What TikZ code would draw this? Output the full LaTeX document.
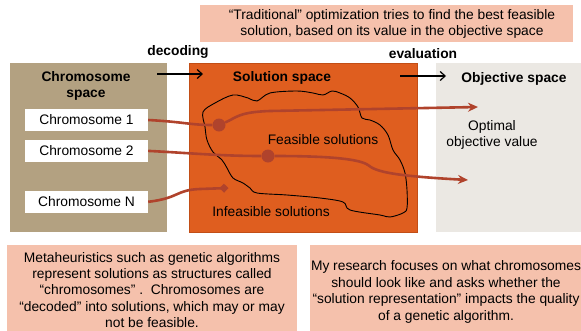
\documentclass[tikz,border=0pt]{standalone}
\usepackage{fontspec}
\setmainfont{Liberation Sans}
\usepackage{tikz}
\usetikzlibrary{arrows.meta, positioning, calc}

\definecolor{chromtan}{HTML}{B3A181}
\definecolor{solorange}{HTML}{DF5E1F}
\definecolor{solborder}{HTML}{C24E16}
\definecolor{objgray}{HTML}{EBE8E3}
\definecolor{notepink}{HTML}{F5C1AC}
\definecolor{linkred}{HTML}{B0432C}
\newcommand{\txtsize}{\fontsize{13.8}{16.4}\selectfont}

\begin{document}
\begin{tikzpicture}[
  x=1pt, y=-1pt,
  every node/.style={font=\txtsize, inner sep=0pt},
  region/.style={anchor=north west, minimum height=169, rectangle},
  title/.style={font=\txtsize\bfseries, align=center},
  chrom/.style={fill=white, minimum width=123, minimum height=22},
  note/.style={fill=notepink, anchor=north west},
  txt/.style={align=center},
  flow/.style={-{Straight Barb[length=5pt, width=9pt]}, line width=1.2pt},
  link/.style={draw=linkred, line width=2.6pt},
  tip/.style={-{Stealth[length=10pt, width=9pt]}},
  dot/.style={circle, fill=linkred, minimum size=13}
]
\useasboundingbox (0,0) rectangle (581,330);

\node[note, minimum width=373, minimum height=37] (topbox) at (200,5) {};
\node[txt] (toptxt) at (392,24) {“Traditional” optimization tries to find the best feasible\\solution, based on its value in the objective space};

\node[region, fill=chromtan, minimum width=157] (cs) at (10,63) {};
\node[region, fill=solorange, draw=solborder, line width=1pt, minimum width=228] (ss) at (189,63) {};
\node[region, fill=objgray, minimum width=160] (os) at (436,63) {};

\node[title] (cst) at (86,86) {Chromosome\\space};
\node[title] (sst) at (282,78) {Solution space};
\node[title] (ost) at (514,79) {Objective space};
\node[title] (dec) at (178,52) {decoding};
\node[title] (eva) at (423,54) {evaluation};

\coordinate (dec1) at (157,74);
\coordinate (dec2) at (203,74);
\coordinate (eva1) at (400,76);
\coordinate (eva2) at (446,76);
\draw[flow] (dec1) -- (dec2);
\draw[flow] (eva1) -- (eva2);

\node[chrom] (c1) at (86.5,120) {Chromosome 1};
\node[chrom, below=8.5pt of c1] (c2) {Chromosome 2};
\node[chrom, below=28.5pt of c2] (cN) {Chromosome N};

\draw[line width=0.9pt] plot[smooth cycle, tension=0.55] coordinates {
  (203,112) (215,103) (233,95) (248,98) (257,101) (270,93) (297,91)
  (313,93) (323,95) (332,91) (340,93) (350,98) (358,107) (362,118)
  (370,120) (380,125) (388,135) (393,150) (400,160) (405,173) (407,190)
  (407,208) (403,213) (390,217) (380,215) (350,210) (343,202) (320,198)
  (287,195) (257,193) (250,188) (243,183) (233,178) (227,168) (222,160)
  (213,152) (207,140) (205,127)};

\node[txt] (feas) at (323,140) {Feasible solutions};
\node[txt] (infeas) at (271,212) {Infeasible solutions};
\node[txt] (optv) at (492,135) {Optimal\\objective value};

\node[dot] (d1) at (219,125) {};
\node[dot] (d2) at (268,156) {};
\coordinate (opt) at (478,107);
\coordinate (nopt) at (468,180);
\coordinate (dN) at (228.5,188);

\draw[link] (c1.east) .. controls (185,122) and (190,125) .. (d1);
\draw[link, tip] (d1) .. controls (236,118) and (238,112) .. (270,111) -- (opt);
\draw[link] (c2.east) .. controls (190,153) and (220,156) .. (d2);
\draw[link, tip] (d2) .. controls (320,156) and (358,158) .. (368,165)
  .. controls (376,172) and (395,176) .. (nopt);
\draw[link, -{Diamond[length=9pt, width=9pt]}] (cN.east) .. controls (180,198) and (175,190) .. (200,189) -- (dN);

\node[note, minimum width=290, minimum height=95] (leftbox) at (7,245) {};
\node[txt] (lefttxt) at (152,290) {Metaheuristics such as genetic algorithms\\represent solutions as structures called\\“chromosomes” .\ \ Chromosomes are\\“decoded” into solutions, which may or may\\not be feasible.};
\node[note, minimum width=290, minimum height=95] (rightbox) at (310,245) {};
\node[txt] (righttxt) at (446,292) {My research focuses on what chromosomes\\should look like and asks whether the\\“solution representation” impacts the quality\\of a genetic algorithm.};
\end{tikzpicture}
\end{document}
